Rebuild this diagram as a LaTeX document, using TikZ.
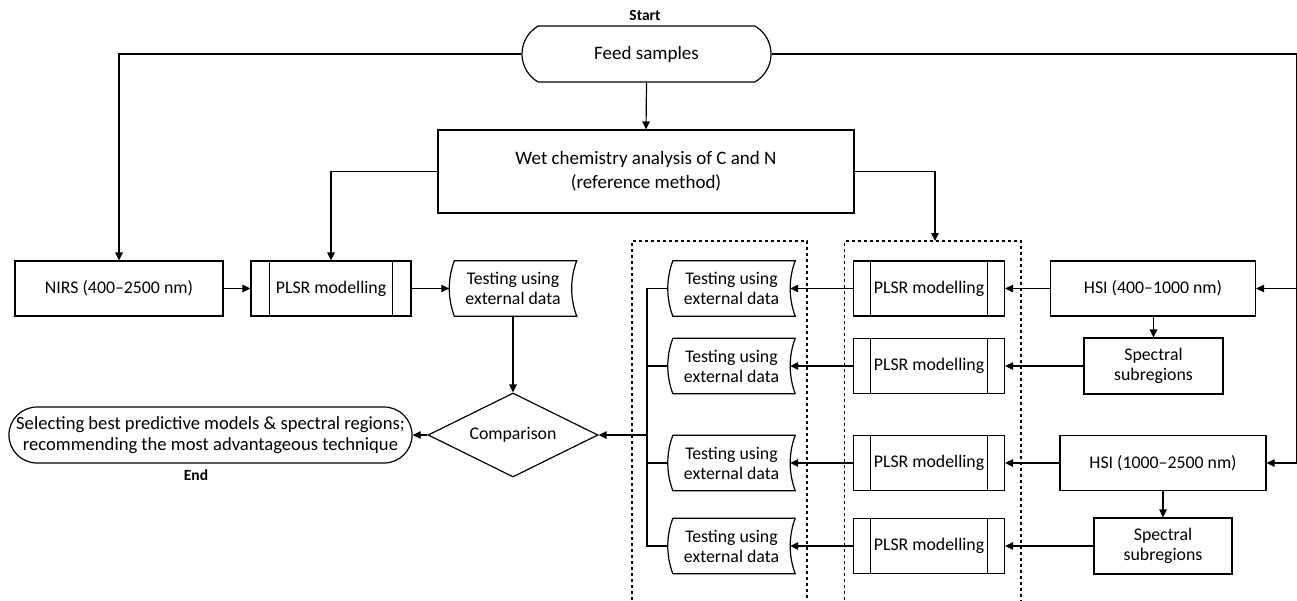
\documentclass[tikz,border=0pt]{standalone}
\usepackage{fontspec}
\setmainfont{Carlito}
\usetikzlibrary{arrows.meta,shapes.geometric,shapes.misc,calc}
\newcommand\plsrlines[2]{%
  \draw[ln] ([xshift=#2pt]#1.north west) -- ([xshift=#2pt]#1.south west);
  \draw[ln] ([xshift=-#2pt]#1.north east) -- ([xshift=-#2pt]#1.south east);}
\newcommand\sdborder[1]{%
  \draw[ln] ([xshift=5pt]#1.north west) -- (#1.north east)
    .. controls +(-6.7,18) and +(-6.7,-18) .. (#1.south east)
    -- ([xshift=5pt]#1.south west)
    .. controls +(-6.7,-18) and +(-6.7,18) .. ([xshift=5pt]#1.north west) -- cycle;}
\newcommand\testtxt{Testing using\\external data}
\begin{document}
\begin{tikzpicture}[x=1pt,y=-1pt,
  every node/.style={font=\fontsize{17.8}{20}\selectfont, inner sep=0pt, align=center},
  ln/.style={line width=1.2pt, line join=miter},
  arr/.style={ln, -{Triangle[length=8pt,width=7.5pt]}},
  procbox/.style={draw, ln, rectangle, minimum height=55pt},
  plsr/.style={procbox, minimum width=151pt},
  testing/.style={minimum width=127pt, minimum height=55pt},
  term/.style={draw, ln, rounded rectangle},
  dec/.style={draw, ln, diamond, aspect=2, minimum width=170pt, minimum height=84pt},
  lbl/.style={font=\fontsize{15.5}{17}\selectfont\bfseries},
  big/.style={font=\fontsize{19}{24}\selectfont},
  dashbox/.style={line width=1.1pt, dash pattern=on 3pt off 3pt}]
\useasboundingbox (0,0) rectangle (1297,600);

% top
\node[lbl] (start) at (645,15) {Start};
\node[term, big, rounded rectangle arc length=120, minimum width=249pt, minimum height=56pt] (feed) at (646.5,54) {Feed samples};
\node[procbox, big, minimum width=416pt, minimum height=83pt] (wet) at (646,171.5) {Wet chemistry analysis of C and N\\(reference method)};

% left branch
\node[procbox, minimum width=208pt] (nirs) at (119,288.5) {NIRS (400–2500 nm)};
\node[plsr, minimum width=160pt] (p0) at (331,288.5) {PLSR modelling};
\plsrlines{p0}{19}
\node[testing] (t0) at (513,288.5) {\testtxt};
\sdborder{t0}
\node[dec] (cmp) at (513,435) {Comparison};
\node[term, minimum width=403pt, minimum height=56pt, font=\fontsize{18.6}{21.5}\selectfont] (endn) at (210.5,435) {Selecting best predictive models \& spectral regions;\\recommending the most advantageous technique};
\node[lbl] (endl) at (196,475) {End};

% right branch
\node[testing] (t1) at (731.5,288.5) {\testtxt};
\node[testing] (t2) at (731.5,366) {\testtxt};
\node[testing] (t3) at (731.5,463) {\testtxt};
\node[testing] (t4) at (731.5,546) {\testtxt};
\sdborder{t1}\sdborder{t2}\sdborder{t3}\sdborder{t4}
\node[plsr] (p1) at (929,288.5) {PLSR modelling};
\node[plsr] (p2) at (929,366) {PLSR modelling};
\node[plsr] (p3) at (929,463) {PLSR modelling};
\node[plsr] (p4) at (929,546) {PLSR modelling};
\plsrlines{p1}{17.5}\plsrlines{p2}{17.5}\plsrlines{p3}{17.5}\plsrlines{p4}{17.5}
\node[procbox, minimum width=205pt] (h1) at (1153,288.5) {HSI (400–1000 nm)};
\node[procbox, minimum width=139pt, minimum height=56pt] (s1) at (1153.5,366) {Spectral\\subregions};
\node[procbox, minimum width=206pt] (h2) at (1163,463) {HSI (1000–2500 nm)};
\node[procbox, minimum width=138pt, minimum height=56pt] (s2) at (1163,546) {Spectral\\subregions};

% dashed groups
\draw[dashbox] (632,600) -- (632,241) -- (807,241) -- (807,600);
\draw[dashbox] (844.5,600) -- (844.5,241) -- (1021,241) -- (1021,600);
\coordinate (dbtop) at (935,241);

% connectors
\draw[arr] (feed.south) -- (wet.north);
\draw[arr] (feed.west) -| (nirs.north);
\draw[arr] (wet.west) -| (p0.north);
\draw[arr] (wet.east) -| (dbtop);
\coordinate (rtop) at (1296.5,54);
\coordinate (rbot) at (1296.5,463);
\draw[ln] (feed.east) -- (rtop) -- (rbot);
\draw[arr] (rbot) -- (h2.east);
\draw[arr] (h1.east -| rtop) -- (h1.east);

\draw[arr] (nirs.east) -- (p0.west);
\draw[arr] (p0.east) -- (t0.west);
\draw[arr] (t0.south) -- (cmp.north);
\draw[arr] (cmp.west) -- (endn.east);

\draw[arr] (h1.south -| s1.north) -- (s1.north);
\draw[arr] (h2.south) -- (s2.north);
\draw[arr] (h1.west) -- (p1.east);
\draw[arr] (s1.west) -- (p2.east);
\draw[arr] (h2.west) -- (p3.east);
\draw[arr] (s2.west) -- (p4.east);
\draw[arr] (p1.west) -- ([xshift=-5pt]t1.east);
\draw[arr] (p2.west) -- ([xshift=-5pt]t2.east);
\draw[arr] (p3.west) -- ([xshift=-5pt]t3.east);
\draw[arr] (p4.west) -- ([xshift=-5pt]t4.east);

\coordinate (bt) at (647,288.5);
\coordinate (bb) at (647,546);
\draw[ln] (t1.west) -- (bt) -- (bb) -- (t4.west);
\draw[ln] (t2.west) -- (t2.west -| bt);
\draw[ln] (t3.west) -- (t3.west -| bt);
\draw[arr] (cmp.east -| bt) -- (cmp.east);
\end{tikzpicture}
\end{document}
